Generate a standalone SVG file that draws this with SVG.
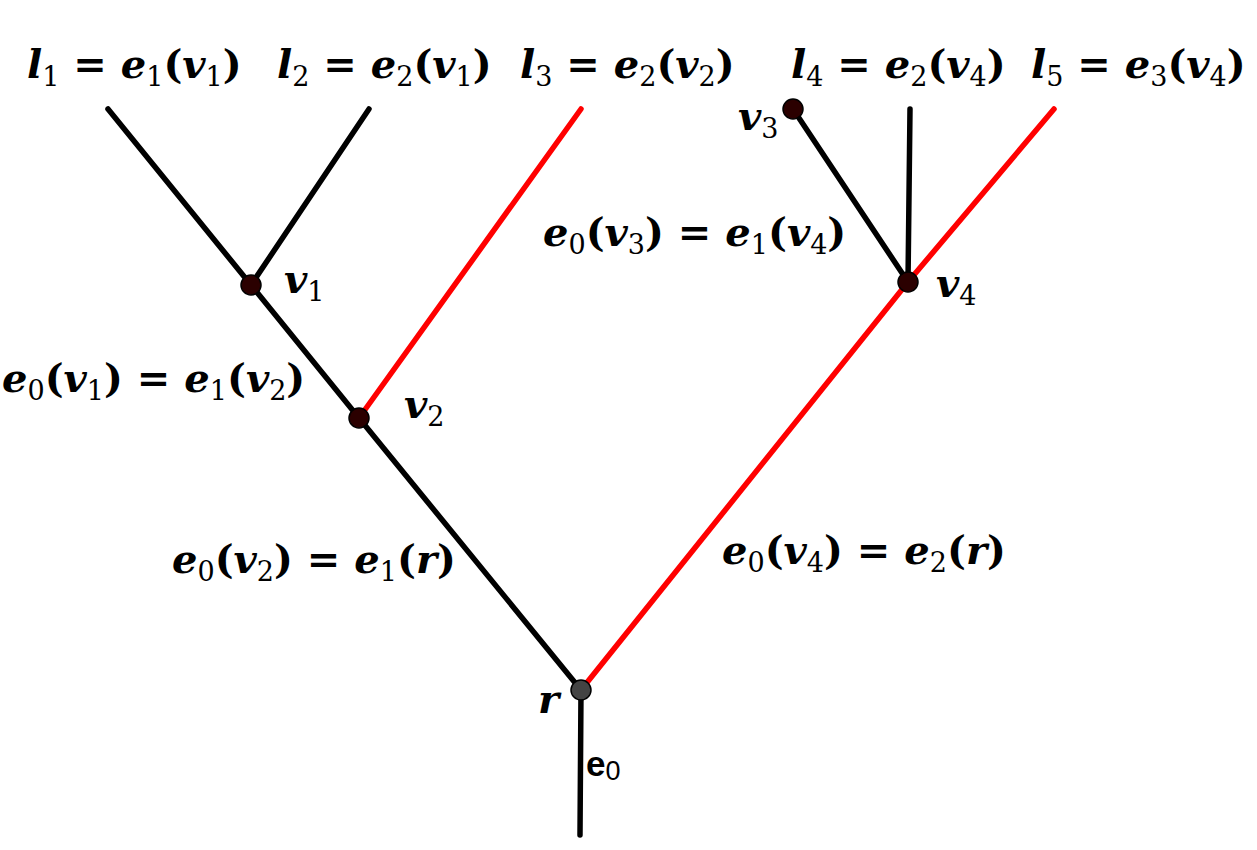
<svg xmlns="http://www.w3.org/2000/svg" width="1257" height="850" viewBox="0 0 1257 850">
<style>
.e{stroke:#000;stroke-width:5.5;stroke-linecap:round;fill:none}
.red{stroke:#ff0000}
.n{fill:#2b0000;stroke:#000;stroke-width:1.5}
.root{fill:#444;stroke:#000;stroke-width:1.5}
.m{font-family:"DejaVu Serif","Liberation Serif",serif;font-size:40px;font-weight:bold;fill:#000}
.i{font-style:italic}
.s{font-size:27px;font-weight:normal}
.sans{font-family:"Liberation Sans","DejaVu Sans",sans-serif;font-weight:bold;font-size:35px}
</style>
<rect width="1257" height="850" fill="#fff"/>
<g id="edges">
<line class="e" x1="581" y1="690" x2="580" y2="835"/>
<line class="e" x1="581" y1="690" x2="359" y2="418"/>
<line class="e" x1="359" y1="418" x2="251" y2="285"/>
<line class="e" x1="251" y1="285" x2="108" y2="109"/>
<line class="e" x1="251" y1="285" x2="369" y2="109"/>
<line class="e red" x1="359" y1="418" x2="581" y2="109"/>
<line class="e red" x1="581" y1="690" x2="908" y2="282"/>
<line class="e red" x1="908" y1="282" x2="1054" y2="109"/>
<line class="e" x1="908" y1="282" x2="793" y2="109"/>
<line class="e" x1="908" y1="282" x2="910" y2="109"/>
</g>
<g id="node-r"><circle class="root" cx="581" cy="690" r="10"/><text class="m i" x="538" y="713">r</text></g>
<g id="node-v1"><circle class="n" cx="251" cy="285" r="10"/><text class="m" x="284" y="293"><tspan class="i">v</tspan><tspan class="s" dy="8">1</tspan></text></g>
<g id="node-v2"><circle class="n" cx="359" cy="418" r="10"/><text class="m" x="404" y="418"><tspan class="i">v</tspan><tspan class="s" dy="8">2</tspan></text></g>
<g id="node-v3"><circle class="n" cx="793" cy="109" r="10"/><text class="m" x="738" y="130"><tspan class="i">v</tspan><tspan class="s" dy="8">3</tspan></text></g>
<g id="node-v4"><circle class="n" cx="908" cy="282" r="10"/><text class="m" x="936" y="297"><tspan class="i">v</tspan><tspan class="s" dy="8">4</tspan></text></g>
<g id="labels">
<text class="m" x="27" y="78"><tspan class="i">l</tspan><tspan class="s" dy="8">1</tspan><tspan dy="-8"> = </tspan><tspan class="i">e</tspan><tspan class="s" dy="8">1</tspan><tspan dy="-8">(</tspan><tspan class="i">v</tspan><tspan class="s" dy="8">1</tspan><tspan dy="-8">)</tspan></text>
<text class="m" x="277" y="78"><tspan class="i">l</tspan><tspan class="s" dy="8">2</tspan><tspan dy="-8"> = </tspan><tspan class="i">e</tspan><tspan class="s" dy="8">2</tspan><tspan dy="-8">(</tspan><tspan class="i">v</tspan><tspan class="s" dy="8">1</tspan><tspan dy="-8">)</tspan></text>
<text class="m" x="520" y="78"><tspan class="i">l</tspan><tspan class="s" dy="8">3</tspan><tspan dy="-8"> = </tspan><tspan class="i">e</tspan><tspan class="s" dy="8">2</tspan><tspan dy="-8">(</tspan><tspan class="i">v</tspan><tspan class="s" dy="8">2</tspan><tspan dy="-8">)</tspan></text>
<text class="m" x="791" y="78"><tspan class="i">l</tspan><tspan class="s" dy="8">4</tspan><tspan dy="-8"> = </tspan><tspan class="i">e</tspan><tspan class="s" dy="8">2</tspan><tspan dy="-8">(</tspan><tspan class="i">v</tspan><tspan class="s" dy="8">4</tspan><tspan dy="-8">)</tspan></text>
<text class="m" x="1031" y="78"><tspan class="i">l</tspan><tspan class="s" dy="8">5</tspan><tspan dy="-8"> = </tspan><tspan class="i">e</tspan><tspan class="s" dy="8">3</tspan><tspan dy="-8">(</tspan><tspan class="i">v</tspan><tspan class="s" dy="8">4</tspan><tspan dy="-8">)</tspan></text>
<text class="m" x="543" y="246"><tspan class="i">e</tspan><tspan class="s" dy="8">0</tspan><tspan dy="-8">(</tspan><tspan class="i">v</tspan><tspan class="s" dy="8">3</tspan><tspan dy="-8">) = </tspan><tspan class="i">e</tspan><tspan class="s" dy="8">1</tspan><tspan dy="-8">(</tspan><tspan class="i">v</tspan><tspan class="s" dy="8">4</tspan><tspan dy="-8">)</tspan></text>
<text class="m" x="2" y="392"><tspan class="i">e</tspan><tspan class="s" dy="8">0</tspan><tspan dy="-8">(</tspan><tspan class="i">v</tspan><tspan class="s" dy="8">1</tspan><tspan dy="-8">) = </tspan><tspan class="i">e</tspan><tspan class="s" dy="8">1</tspan><tspan dy="-8">(</tspan><tspan class="i">v</tspan><tspan class="s" dy="8">2</tspan><tspan dy="-8">)</tspan></text>
<text class="m" x="172" y="573"><tspan class="i">e</tspan><tspan class="s" dy="8">0</tspan><tspan dy="-8">(</tspan><tspan class="i">v</tspan><tspan class="s" dy="8">2</tspan><tspan dy="-8">) = </tspan><tspan class="i">e</tspan><tspan class="s" dy="8">1</tspan><tspan dy="-8">(</tspan><tspan class="i">r</tspan><tspan>)</tspan></text>
<text class="m" x="722" y="564"><tspan class="i">e</tspan><tspan class="s" dy="8">0</tspan><tspan dy="-8">(</tspan><tspan class="i">v</tspan><tspan class="s" dy="8">4</tspan><tspan dy="-8">) = </tspan><tspan class="i">e</tspan><tspan class="s" dy="8">2</tspan><tspan dy="-8">(</tspan><tspan class="i">r</tspan><tspan>)</tspan></text>
<text class="sans" x="586" y="776">e<tspan font-size="27px" font-weight="normal" dy="4">0</tspan></text>
</g>
</svg>
